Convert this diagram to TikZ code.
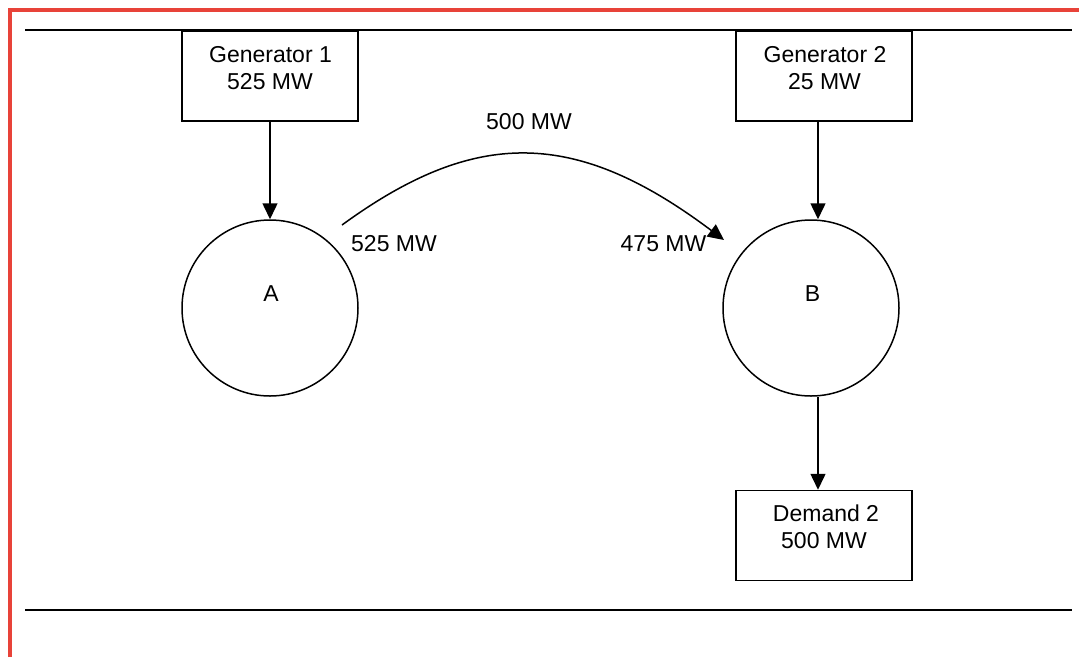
\documentclass[tikz,border=0pt]{standalone}
\usepackage{fontspec}
\setmainfont{Liberation Sans}
\usetikzlibrary{arrows.meta}
\definecolor{frame}{RGB}{232,67,57}
\begin{document}
\begin{tikzpicture}[x=1pt,y=-1pt,
  every node/.style={font=\fontsize{23}{26.6}\selectfont},
  boxnode/.style={draw,line width=1.5pt,minimum width=176pt,minimum height=90pt,inner sep=0pt,anchor=center},
  busnode/.style={draw,circle,line width=1.5pt,minimum size=176pt,inner sep=0pt},
  txt/.style={anchor=base,inner sep=0pt},
  arr/.style={line width=1.5pt,-{Triangle[length=16pt,width=15pt]}},
  rule/.style={line width=2.4pt},
  redline/.style={frame,line width=4pt}]
\useasboundingbox (0,0) rectangle (1079,657);
% frame
\draw[redline] (10,657) -- (10,10) -- (1079,10);
\coordinate (r1a) at (25,30);
\coordinate (r1b) at (1072,30);
\coordinate (r2a) at (25,610);
\coordinate (r2b) at (1072,610);
\draw[rule] (r1a) -- (r1b);
\draw[rule] (r2a) -- (r2b);
% boxes
\node[boxnode] (g1) at (270,76) {};
\node[txt] (g1a) at (270.5,62.7) {Generator 1};
\node[txt] (g1b) at (270,89) {525 MW};
\node[boxnode] (g2) at (824,76) {};
\node[txt] (g2a) at (825,62.7) {Generator 2};
\node[txt] (g2b) at (824.5,89) {25 MW};
\node[boxnode] (d2) at (824,535.5) {};
\node[txt] (d2a) at (826,521.7) {Demand 2};
\node[txt] (d2b) at (824,548) {500 MW};
% buses
\node[busnode] (A) at (270,308) {};
\node[txt] (Al) at (271,301.7) {A};
\node[busnode] (B) at (811,308) {};
\node[txt] (Bl) at (812.5,301.7) {B};
% connectors
\coordinate (xr) at (818,0);
\draw[arr] (g1.south) -- (A.north);
\draw[arr] (g2.south -| xr) -- (B.north -| xr);
\draw[arr] (B.south -| xr) -- (d2.north -| xr);
\coordinate (fs) at (342,225);
\coordinate (fe) at (724,240);
\draw[arr] (fs) .. controls (475,128) and (575,128) .. (fe);
% flow labels
\node[txt] (l500) at (529,129) {500 MW};
\node[txt] (l525) at (394,251) {525 MW};
\node[txt] (l475) at (663.5,251) {475 MW};
\end{tikzpicture}
\end{document}
